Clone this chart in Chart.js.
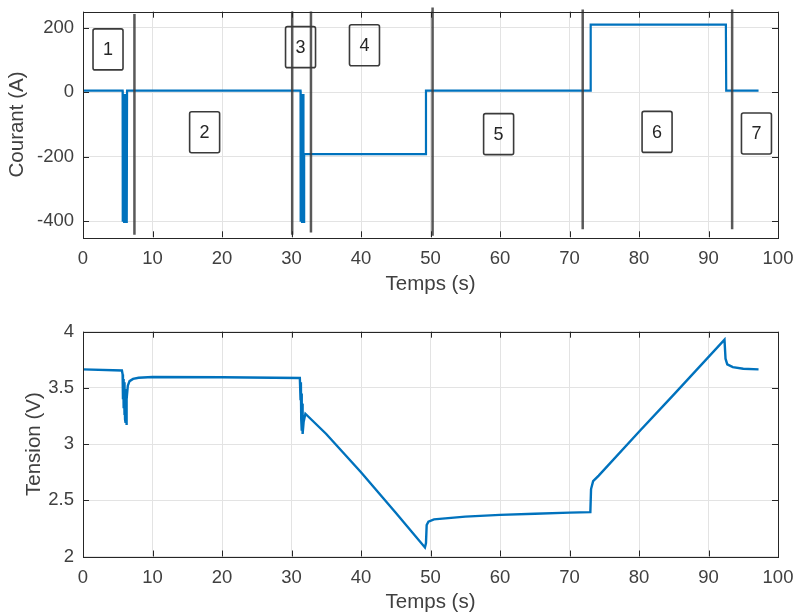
<!DOCTYPE html>
<html>
<head>
<meta charset="utf-8">
<script src="https://cdn.jsdelivr.net/npm/chart.js@4"></script>
<style>
  body { margin: 0; background: #fff; }
  canvas { position: absolute; left: 0; }
</style>
</head>
<body>
<canvas id="courantChart" width="797" height="300" style="top:0px"></canvas>
<canvas id="tensionChart" width="797" height="306" style="top:310px"></canvas>
<script>
// data
var tCourant = [0, 5.7, 5.72, 5.77, 5.82, 5.87, 5.92, 5.97, 6.02, 6.07, 6.12, 6.17, 6.22, 6.27, 6.32, 6.34,
  31.3, 31.32, 31.37, 31.42, 31.47, 31.52, 31.57, 31.62, 31.67, 31.72, 31.8, 31.82, 49.3, 49.35,
  73.0, 73.05, 92.5, 92.55, 97.2]
var courant = [5, 5, -402, -5, -402, -5, -402, -5, -402, -5, -402, -5, -402, -5, -402, 5,
  5, -402, -5, -402, -5, -402, -5, -402, -5, -402, -402, -192, -192, 5,
  5, 210, 210, 5, 5]

var tTension = [0, 5.6, 5.7, 5.75, 5.8, 5.85, 5.9, 5.95, 6.0, 6.05, 6.1, 6.15, 6.2, 6.25, 6.3, 6.45,
  6.7, 7.2, 8, 10, 20, 31.2, 31.3, 31.35, 31.4, 31.45, 31.5, 31.55, 31.6, 31.75,
  32.0, 33, 35, 40, 45, 49.2, 49.35, 49.45, 49.7,
  50.5, 55, 60, 65, 70, 73.0, 73.1, 73.4, 74.2, 80,
  85, 92.3, 92.45, 92.7, 93.5, 95, 97.2]
var tension = [3.665, 3.655, 3.62, 3.40, 3.58, 3.32, 3.55, 3.26, 3.52, 3.22, 3.49, 3.19, 3.46, 3.17, 3.40, 3.52,
  3.56, 3.58, 3.59, 3.597, 3.595, 3.588, 3.40, 3.55, 3.22, 3.45, 3.12, 3.36, 3.09, 3.20,
  3.27, 3.21, 3.09, 2.75, 2.39, 2.08, 2.12, 2.28, 2.31,
  2.33, 2.355, 2.37, 2.38, 2.39, 2.395, 2.60, 2.67, 2.72, 3.11,
  3.44, 3.93, 3.76, 3.71, 3.685, 3.67, 3.665]

var xTicks = [0, 10, 20, 30, 40, 50, 60, 70, 80, 90, 100]
var courantTicks = [-400, -200, 0, 200]
var tensionTicks = [2, 2.5, 3, 3.5, 4]

// phase separators (vertical lines) and their ends
var sepTimes = [7.4, 30.1, 32.8, 50.3, 71.9, 93.4]
var sepTop = [243, 251, 251, 263, 257, 257]
var sepBottom = [-442, -442, -435, -445, -425, -425]

// numbered phase boxes
var phaseLabels = ['1', '2', '3', '4', '5', '6', '7']
var phaseT = [3.6, 17.5, 31.3, 40.5, 59.8, 82.6, 96.9]
var phaseI = [133, -124, 140, 146, -130, -123, -128]

var blue = '#0072BD'
var textCol = '#404040'
var axisCol = '#262626'
var gridCol = '#e3e3e3'

Chart.defaults.font.family = "'Liberation Sans', Arial, sans-serif"

function pts(xs, ys) {
  return xs.map(function(x, i) { return { x: x, y: ys[i] } })
}

//frame + inward ticks like matlab
var framePlugin = {
  id: 'frame',
  afterDatasetsDraw: function(chart) {
    var a = chart.chartArea, ctx = chart.ctx
    var xs = chart.scales.x, ys = chart.scales.y
    ctx.save()
    ctx.strokeStyle = axisCol
    ctx.lineWidth = 1
    ctx.beginPath()
    xs.ticks.forEach(function(t) {
      var p = Math.round(xs.getPixelForValue(t.value)) + 0.5
      ctx.moveTo(p, a.bottom); ctx.lineTo(p, a.bottom - 6)
      ctx.moveTo(p, a.top); ctx.lineTo(p, a.top + 6)
    })
    ys.ticks.forEach(function(t) {
      var p = Math.round(ys.getPixelForValue(t.value)) + 0.5
      ctx.moveTo(a.left, p); ctx.lineTo(a.left + 6, p)
      ctx.moveTo(a.right, p); ctx.lineTo(a.right - 6, p)
    })
    ctx.stroke()
    ctx.strokeRect(Math.round(a.left) + 0.5, Math.round(a.top) + 0.5,
      Math.round(a.right - a.left), Math.round(a.bottom - a.top))
    ctx.restore()
  }
}

var boxPlugin = {
  id: 'phaseBoxes',
  afterDatasetsDraw: function(chart) {
    if (!chart.options.plugins.phaseBoxes) return
    var ctx = chart.ctx
    var xs = chart.scales.x, ys = chart.scales.y
    ctx.save()
    ctx.strokeStyle = '#3a3a3a'
    ctx.lineWidth = 1.6
    ctx.fillStyle = axisCol
    ctx.font = "18px 'Liberation Sans', Arial, sans-serif"
    ctx.textAlign = 'center'
    ctx.textBaseline = 'middle'
    for (var i = 0; i < phaseLabels.length; i++) {
      var cx = xs.getPixelForValue(phaseT[i])
      var cy = ys.getPixelForValue(phaseI[i])
      ctx.beginPath()
      ctx.roundRect(cx - 15, cy - 20.5, 30, 41, 2)
      ctx.stroke()
      ctx.fillText(phaseLabels[i], cx, cy + 1)
    }
    ctx.restore()
  }
}

function makeOptions(yMin, yMax, yTicks, yTitle, yTitlePad, padTop, xHeight, xTitlePad, boxes) {
  return {
    responsive: false,
    animation: false,
    layout: { padding: { top: padTop, right: 19, left: 0, bottom: 0 } },
    plugins: {
      legend: { display: false },
      tooltip: { enabled: false },
      phaseBoxes: boxes
    },
    elements: {
      point: { radius: 0 },
      line: { tension: 0 }
    },
    scales: {
      x: {
        type: 'linear',
        min: 0,
        max: 100,
        afterBuildTicks: function(s) { s.ticks = xTicks.map(function(v) { return { value: v } }) },
        afterFit: function(s) { s.height = xHeight; s.paddingLeft = 0; s.paddingRight = 0 },
        grid: { color: gridCol, drawTicks: false },
        border: { display: false },
        ticks: { color: textCol, font: { size: 18.5 }, padding: 10.5, autoSkip: false, maxRotation: 0,
          callback: function(v) { return String(v) } },
        title: { display: true, text: 'Temps (s)', color: textCol, font: { size: 20.5 }, padding: { top: 0, bottom: xTitlePad } }
      },
      y: {
        min: yMin,
        max: yMax,
        afterBuildTicks: function(s) { s.ticks = yTicks.map(function(v) { return { value: v } }) },
        afterFit: function(s) { s.width = 83; s.paddingTop = 0; s.paddingBottom = 0 },
        grid: { color: gridCol, drawTicks: false },
        border: { display: false },
        ticks: { color: textCol, font: { size: 18.5 }, padding: 9,
          callback: function(v) { return String(v) } },
        title: { display: true, text: yTitle, color: textCol, font: { size: 20.5 }, padding: { top: yTitlePad, bottom: 0 } }
      }
    }
  }
}

//top chart : current
var sepSets = sepTimes.map(function(t, i) {
  return {
    data: [{ x: t, y: sepTop[i] }, { x: t, y: sepBottom[i] }],
    borderColor: 'rgba(60,60,60,0.85)',
    borderWidth: 2.5,
    clip: false,
    order: 0
  }
})

new Chart(document.getElementById('courantChart'), {
  type: 'line',
  data: {
    datasets: [{
      data: pts(tCourant, courant),
      borderColor: blue,
      borderWidth: 2.2,
      order: 1
    }].concat(sepSets)
  },
  options: makeOptions(-450, 250, courantTicks, 'Courant (A)', 5.3, 11.7, 62.7, 3.4, true),
  plugins: [framePlugin, boxPlugin]
})

//bottom chart : voltage
new Chart(document.getElementById('tensionChart'), {
  type: 'line',
  data: {
    datasets: [{
      data: pts(tTension, tension),
      borderColor: blue,
      borderWidth: 2.4
    }]
  },
  options: makeOptions(2, 4, tensionTicks, 'Tension (V)', 22, 21.7, 59.5, 1.1, false),
  plugins: [framePlugin, boxPlugin]
})
</script>
</body>
</html>
